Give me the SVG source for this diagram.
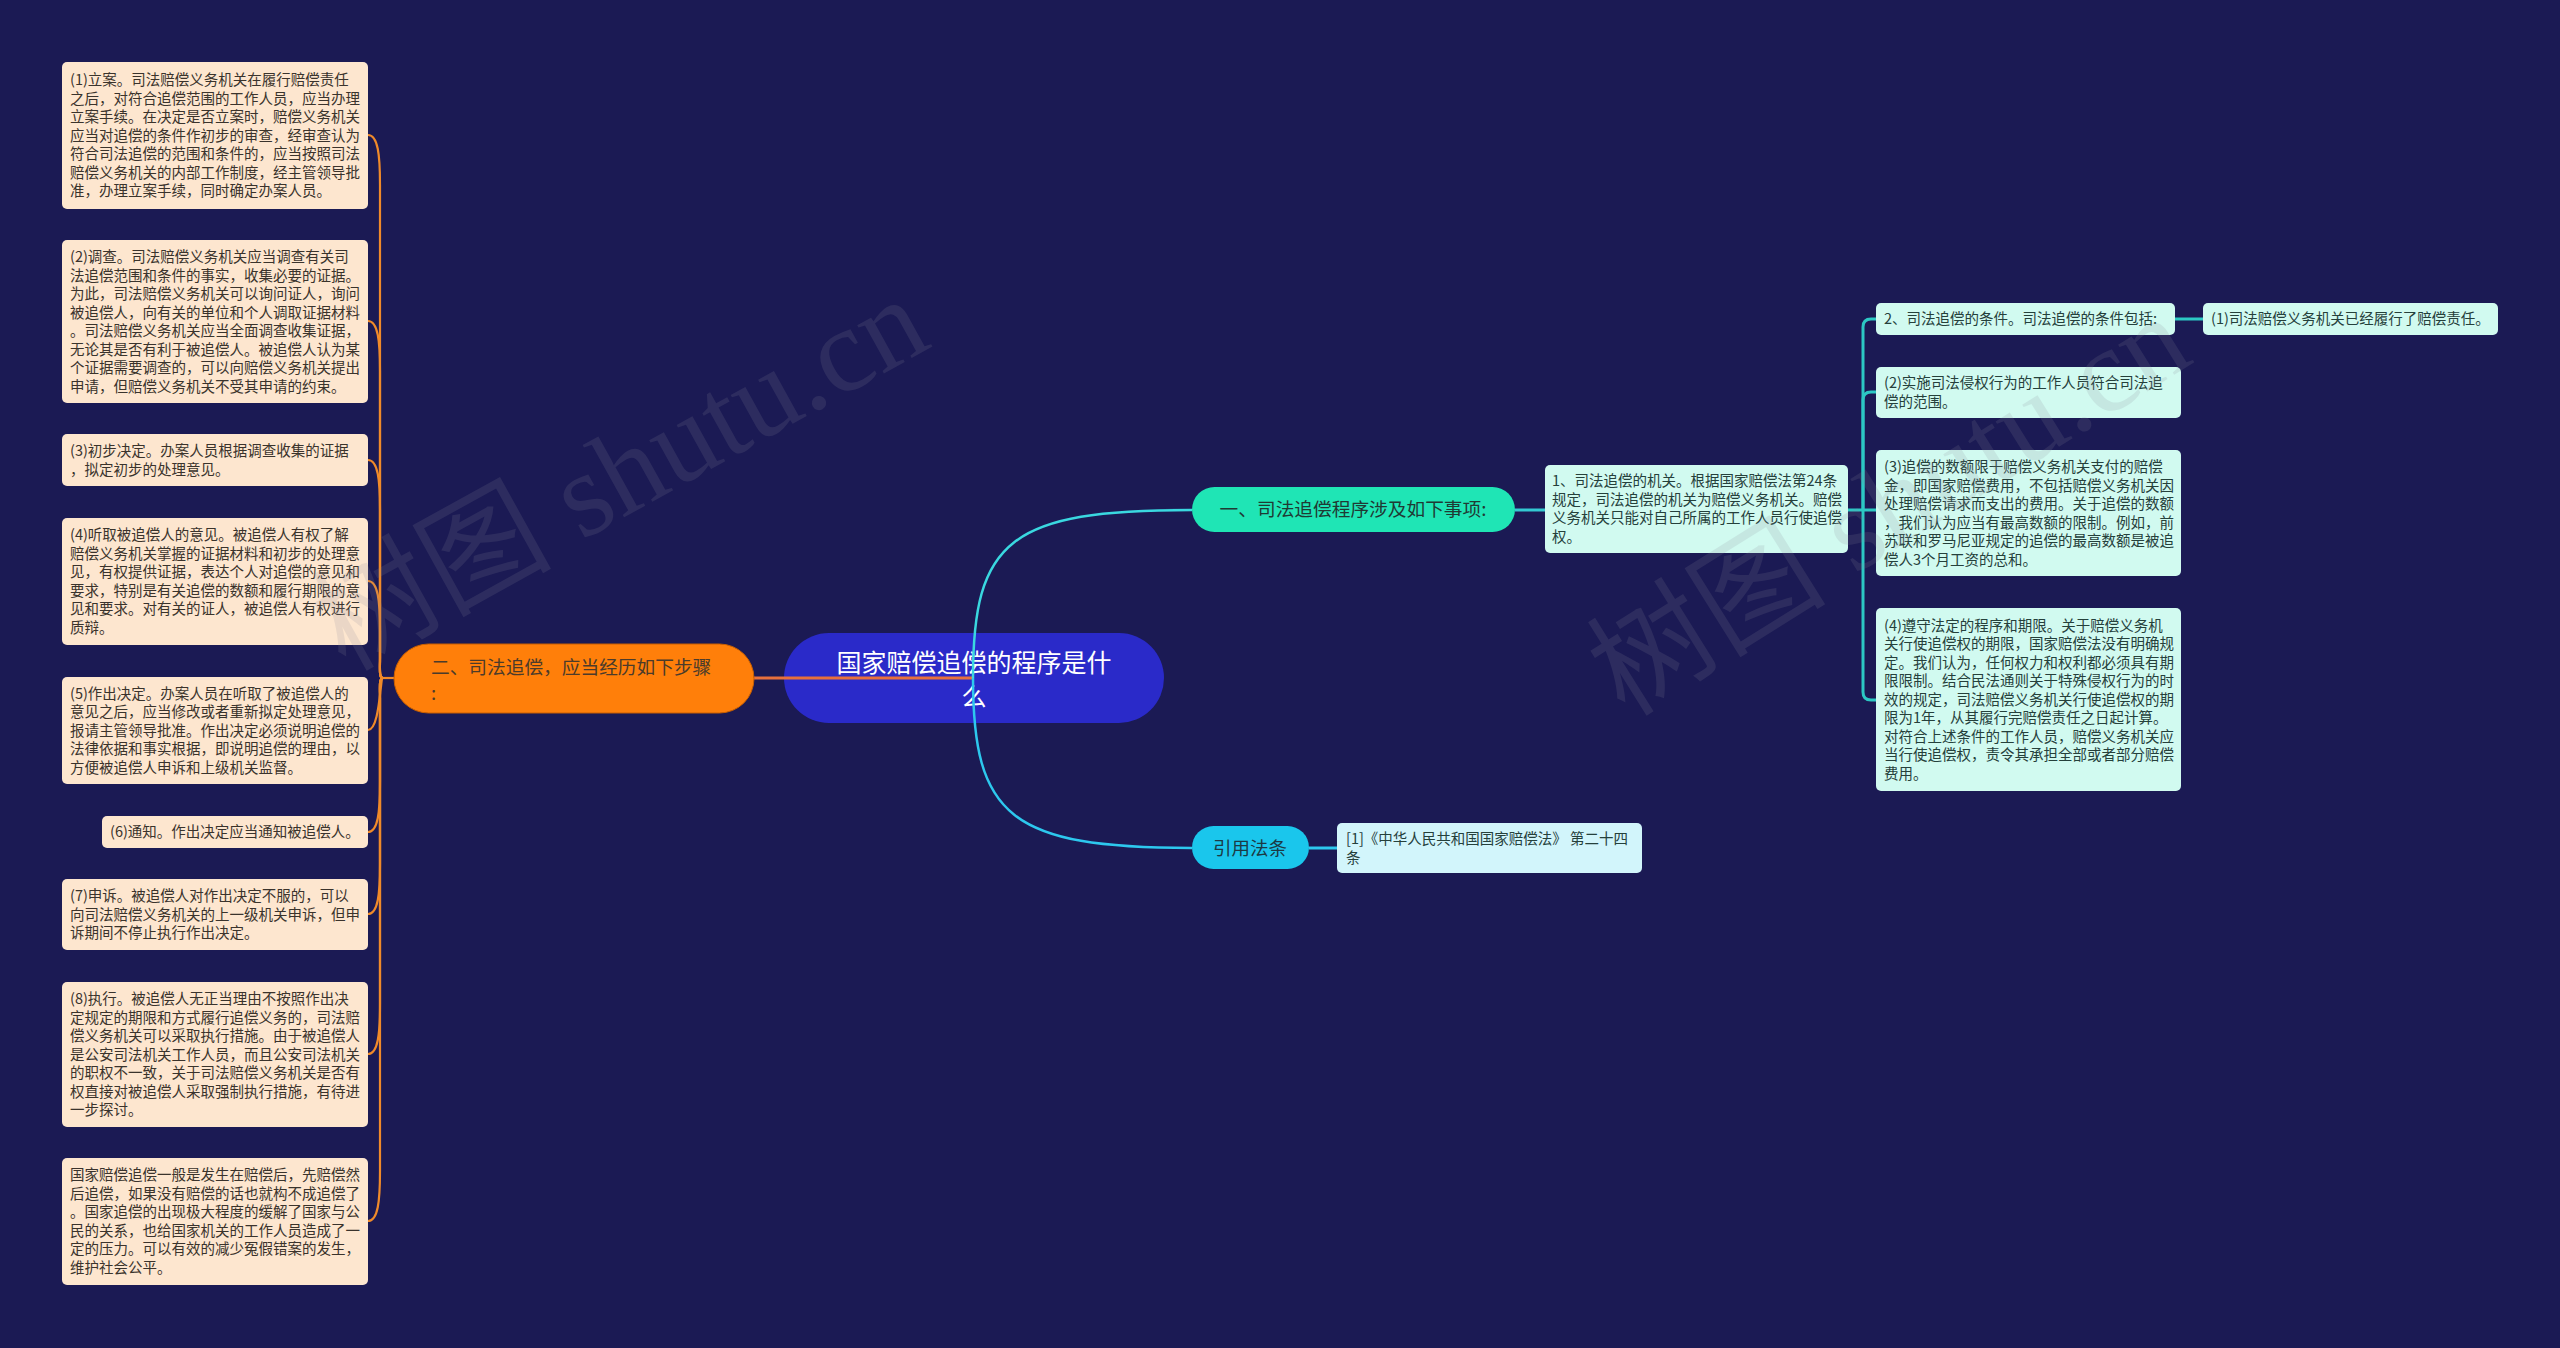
<svg xmlns="http://www.w3.org/2000/svg" width="2560" height="1348" viewBox="0 0 2560 1348">
<style>
text{font-family:"Noto Sans CJK SC","Noto Sans",sans-serif}
.lbox{fill:#fde6cf}
.rbox{fill:#d1faf0}
.cbox{fill:#d2f5fb}
.lt{font-size:14.5px;fill:#3a332c}
.rt{font-size:14.5px;fill:#25403b}
.org{fill:none;stroke:#f08a2a;stroke-width:2.2}
.tea{fill:none;stroke:#2cc8c4;stroke-width:3}
.wm{font-family:"Liberation Serif","Noto Sans CJK SC",serif;font-size:120px;fill:#8a8a9a;opacity:0.16}
</style>
<rect x="0" y="0" width="2560" height="1348" fill="#1b1a54"/>

<g id="root">
<rect x="784" y="633" width="380" height="90" rx="45" fill="#2a2ac9"/>
<text x="974" y="672" font-size="25" fill="#ffffff" text-anchor="middle">国家赔偿追偿的程序是什<tspan x="974" dy="34">么</tspan></text>
</g>

<g id="connectors">
<path d="M754,678 H973" fill="none" stroke="#e8703c" stroke-width="3"/>
<path d="M973,678 C973,540 1010,510 1192,510" fill="none" stroke="#3ad8e0" stroke-width="2.5"/>
<path d="M973,678 C973,816 1010,848 1192,848" fill="none" stroke="#2dc8ee" stroke-width="2.5"/>
<path d="M397,678 H383" class="org"/>
<path d="M383,678 C379,678 380,670 380,658 L380,185 C380,155 378,135 368,135" class="org"/>
<path d="M383,678 C379,678 380,670 380,658 L380,371 C380,341 378,321 368,321" class="org"/>
<path d="M383,678 C379,678 380,670 380,658 L380,510 C380,480 378,460 368,460" class="org"/>
<path d="M383,678 C379,678 380,670 380,658 L380,631 C380,601 378,581 368,581" class="org"/>
<path d="M383,678 C380,678 380,730 368,730" class="org"/>
<path d="M383,678 C379,678 380,686 380,698 L380,782 C380,812 378,832 368,832" class="org"/>
<path d="M383,678 C379,678 380,686 380,698 L380,864 C380,894 378,914 368,914" class="org"/>
<path d="M383,678 C379,678 380,686 380,698 L380,1004 C380,1034 378,1054 368,1054" class="org"/>
<path d="M383,678 C379,678 380,686 380,698 L380,1171 C380,1201 378,1221 368,1221" class="org"/>
<path d="M1515,510 H1545" fill="none" stroke="#33c9d2" stroke-width="3"/>
<path d="M1848,510 H1863" class="tea"/>
<path d="M1863,510 V327 Q1863,319 1871,319 H1876" class="tea"/>
<path d="M1863,510 V400 Q1863,392 1871,392 H1876" class="tea"/>
<path d="M1863,510 H1876" class="tea"/>
<path d="M1863,510 V692 Q1863,700 1871,700 H1876" class="tea"/>
<path d="M2175,319 H2203" class="tea"/>
<path d="M1309,848 H1337" fill="none" stroke="#2dc8ee" stroke-width="3"/>
</g>

<g id="branch-left">
<rect x="394" y="644" width="360" height="69" rx="34.5" fill="#ff7f0a" stroke="#c85f00" stroke-width="1"/>
<text x="431" y="674" font-size="18.7" fill="#4b3b2b">二、司法追偿，应当经历如下步骤<tspan x="431" dy="26">:</tspan></text>
</g>

<g id="branch-right-1">
<rect x="1192" y="487" width="323" height="45" rx="22.5" fill="#1fe5b5"/>
<text x="1353" y="516" font-size="18.7" fill="#1f3a34" text-anchor="middle">一、司法追偿程序涉及如下事项:</text>
</g>

<g id="branch-right-2">
<rect x="1192" y="826" width="117" height="43" rx="21.5" fill="#1ac6ec"/>
<text x="1250" y="855" font-size="18.5" fill="#1c3a44" text-anchor="middle">引用法条</text>
</g>

<g id="step-1">
<rect class="lbox" x="62" y="62" width="306" height="147" rx="5"/>
<text class="lt" x="70" y="85">(1)立案。司法赔偿义务机关在履行赔偿责任<tspan x="70" dy="18.5">之后，对符合追偿范围的工作人员，应当办理</tspan><tspan x="70" dy="18.5">立案手续。在决定是否立案时，赔偿义务机关</tspan><tspan x="70" dy="18.5">应当对追偿的条件作初步的审查，经审查认为</tspan><tspan x="70" dy="18.5">符合司法追偿的范围和条件的，应当按照司法</tspan><tspan x="70" dy="18.5">赔偿义务机关的内部工作制度，经主管领导批</tspan><tspan x="70" dy="18.5">准，办理立案手续，同时确定办案人员。</tspan></text>
</g>

<g id="step-2">
<rect class="lbox" x="62" y="240" width="306" height="163" rx="5"/>
<text class="lt" x="70" y="262">(2)调查。司法赔偿义务机关应当调查有关司<tspan x="70" dy="18.5">法追偿范围和条件的事实，收集必要的证据。</tspan><tspan x="70" dy="18.5">为此，司法赔偿义务机关可以询问证人，询问</tspan><tspan x="70" dy="18.5">被追偿人，向有关的单位和个人调取证据材料</tspan><tspan x="70" dy="18.5">。司法赔偿义务机关应当全面调查收集证据，</tspan><tspan x="70" dy="18.5">无论其是否有利于被追偿人。被追偿人认为某</tspan><tspan x="70" dy="18.5">个证据需要调查的，可以向赔偿义务机关提出</tspan><tspan x="70" dy="18.5">申请，但赔偿义务机关不受其申请的约束。</tspan></text>
</g>

<g id="step-3">
<rect class="lbox" x="62" y="434" width="306" height="52" rx="5"/>
<text class="lt" x="70" y="456">(3)初步决定。办案人员根据调查收集的证据<tspan x="70" dy="18.5">，拟定初步的处理意见。</tspan></text>
</g>

<g id="step-4">
<rect class="lbox" x="62" y="518" width="306" height="127" rx="5"/>
<text class="lt" x="70" y="540">(4)听取被追偿人的意见。被追偿人有权了解<tspan x="70" dy="18.5">赔偿义务机关掌握的证据材料和初步的处理意</tspan><tspan x="70" dy="18.5">见，有权提供证据，表达个人对追偿的意见和</tspan><tspan x="70" dy="18.5">要求，特别是有关追偿的数额和履行期限的意</tspan><tspan x="70" dy="18.5">见和要求。对有关的证人，被追偿人有权进行</tspan><tspan x="70" dy="18.5">质辩。</tspan></text>
</g>

<g id="step-5">
<rect class="lbox" x="62" y="677" width="306" height="107" rx="5"/>
<text class="lt" x="70" y="698.5">(5)作出决定。办案人员在听取了被追偿人的<tspan x="70" dy="18.5">意见之后，应当修改或者重新拟定处理意见，</tspan><tspan x="70" dy="18.5">报请主管领导批准。作出决定必须说明追偿的</tspan><tspan x="70" dy="18.5">法律依据和事实根据，即说明追偿的理由，以</tspan><tspan x="70" dy="18.5">方便被追偿人申诉和上级机关监督。</tspan></text>
</g>

<g id="step-6">
<rect class="lbox" x="102" y="816" width="266" height="32" rx="5"/>
<text class="lt" x="110" y="837">(6)通知。作出决定应当通知被追偿人。</text>
</g>

<g id="step-7">
<rect class="lbox" x="62" y="879" width="306" height="71" rx="5"/>
<text class="lt" x="70" y="901">(7)申诉。被追偿人对作出决定不服的，可以<tspan x="70" dy="18.5">向司法赔偿义务机关的上一级机关申诉，但申</tspan><tspan x="70" dy="18.5">诉期间不停止执行作出决定。</tspan></text>
</g>

<g id="step-8">
<rect class="lbox" x="62" y="982" width="306" height="145" rx="5"/>
<text class="lt" x="70" y="1004">(8)执行。被追偿人无正当理由不按照作出决<tspan x="70" dy="18.5">定规定的期限和方式履行追偿义务的，司法赔</tspan><tspan x="70" dy="18.5">偿义务机关可以采取执行措施。由于被追偿人</tspan><tspan x="70" dy="18.5">是公安司法机关工作人员，而且公安司法机关</tspan><tspan x="70" dy="18.5">的职权不一致，关于司法赔偿义务机关是否有</tspan><tspan x="70" dy="18.5">权直接对被追偿人采取强制执行措施，有待进</tspan><tspan x="70" dy="18.5">一步探讨。</tspan></text>
</g>

<g id="step-summary">
<rect class="lbox" x="62" y="1158" width="306" height="127" rx="5"/>
<text class="lt" x="70" y="1180">国家赔偿追偿一般是发生在赔偿后，先赔偿然<tspan x="70" dy="18.5">后追偿，如果没有赔偿的话也就构不成追偿了</tspan><tspan x="70" dy="18.5">。国家追偿的出现极大程度的缓解了国家与公</tspan><tspan x="70" dy="18.5">民的关系，也给国家机关的工作人员造成了一</tspan><tspan x="70" dy="18.5">定的压力。可以有效的减少冤假错案的发生，</tspan><tspan x="70" dy="18.5">维护社会公平。</tspan></text>
</g>

<g id="item-1">
<rect class="rbox" x="1545" y="465" width="303" height="88" rx="5"/>
<text class="rt" x="1552" y="486">1、司法追偿的机关。根据国家赔偿法第24条<tspan x="1552" dy="18.5">规定，司法追偿的机关为赔偿义务机关。赔偿</tspan><tspan x="1552" dy="18.5">义务机关只能对自己所属的工作人员行使追偿</tspan><tspan x="1552" dy="18.5">权。</tspan></text>
</g>

<g id="item-2">
<rect class="rbox" x="1876" y="303" width="299" height="32" rx="5"/>
<text class="rt" x="1884" y="324">2、司法追偿的条件。司法追偿的条件包括:</text>
</g>

<g id="item-2-1">
<rect class="rbox" x="2203" y="303" width="295" height="32" rx="5"/>
<text class="rt" x="2211" y="324">(1)司法赔偿义务机关已经履行了赔偿责任。</text>
</g>

<g id="item-cond-2">
<rect class="rbox" x="1876" y="367" width="305" height="51" rx="5"/>
<text class="rt" x="1884" y="388">(2)实施司法侵权行为的工作人员符合司法追<tspan x="1884" dy="18.5">偿的范围。</tspan></text>
</g>

<g id="item-cond-3">
<rect class="rbox" x="1876" y="450" width="305" height="126" rx="5"/>
<text class="rt" x="1884" y="472">(3)追偿的数额限于赔偿义务机关支付的赔偿<tspan x="1884" dy="18.5">金，即国家赔偿费用，不包括赔偿义务机关因</tspan><tspan x="1884" dy="18.5">处理赔偿请求而支出的费用。关于追偿的数额</tspan><tspan x="1884" dy="18.5">，我们认为应当有最高数额的限制。例如，前</tspan><tspan x="1884" dy="18.5">苏联和罗马尼亚规定的追偿的最高数额是被追</tspan><tspan x="1884" dy="18.5">偿人3个月工资的总和。</tspan></text>
</g>

<g id="item-cond-4">
<rect class="rbox" x="1876" y="608" width="305" height="183" rx="5"/>
<text class="rt" x="1884" y="630.5">(4)遵守法定的程序和期限。关于赔偿义务机<tspan x="1884" dy="18.5">关行使追偿权的期限，国家赔偿法没有明确规</tspan><tspan x="1884" dy="18.5">定。我们认为，任何权力和权利都必须具有期</tspan><tspan x="1884" dy="18.5">限限制。结合民法通则关于特殊侵权行为的时</tspan><tspan x="1884" dy="18.5">效的规定，司法赔偿义务机关行使追偿权的期</tspan><tspan x="1884" dy="18.5">限为1年，从其履行完赔偿责任之日起计算。</tspan><tspan x="1884" dy="18.5">对符合上述条件的工作人员，赔偿义务机关应</tspan><tspan x="1884" dy="18.5">当行使追偿权，责令其承担全部或者部分赔偿</tspan><tspan x="1884" dy="18.5">费用。</tspan></text>
</g>

<g id="law-ref">
<rect class="cbox" x="1337" y="823" width="305" height="50" rx="5"/>
<text class="rt" x="1346" y="844">[1]《中华人民共和国国家赔偿法》 第二十四<tspan x="1346" dy="18.5">条</tspan></text>
</g>

<g id="watermark">
<text class="wm" x="345" y="672" transform="rotate(-29 345 672)">树图 shutu.cn</text>
<text class="wm" x="1625" y="718" transform="rotate(-32 1625 718)">树图 shutu.cn</text>
</g>
</svg>
